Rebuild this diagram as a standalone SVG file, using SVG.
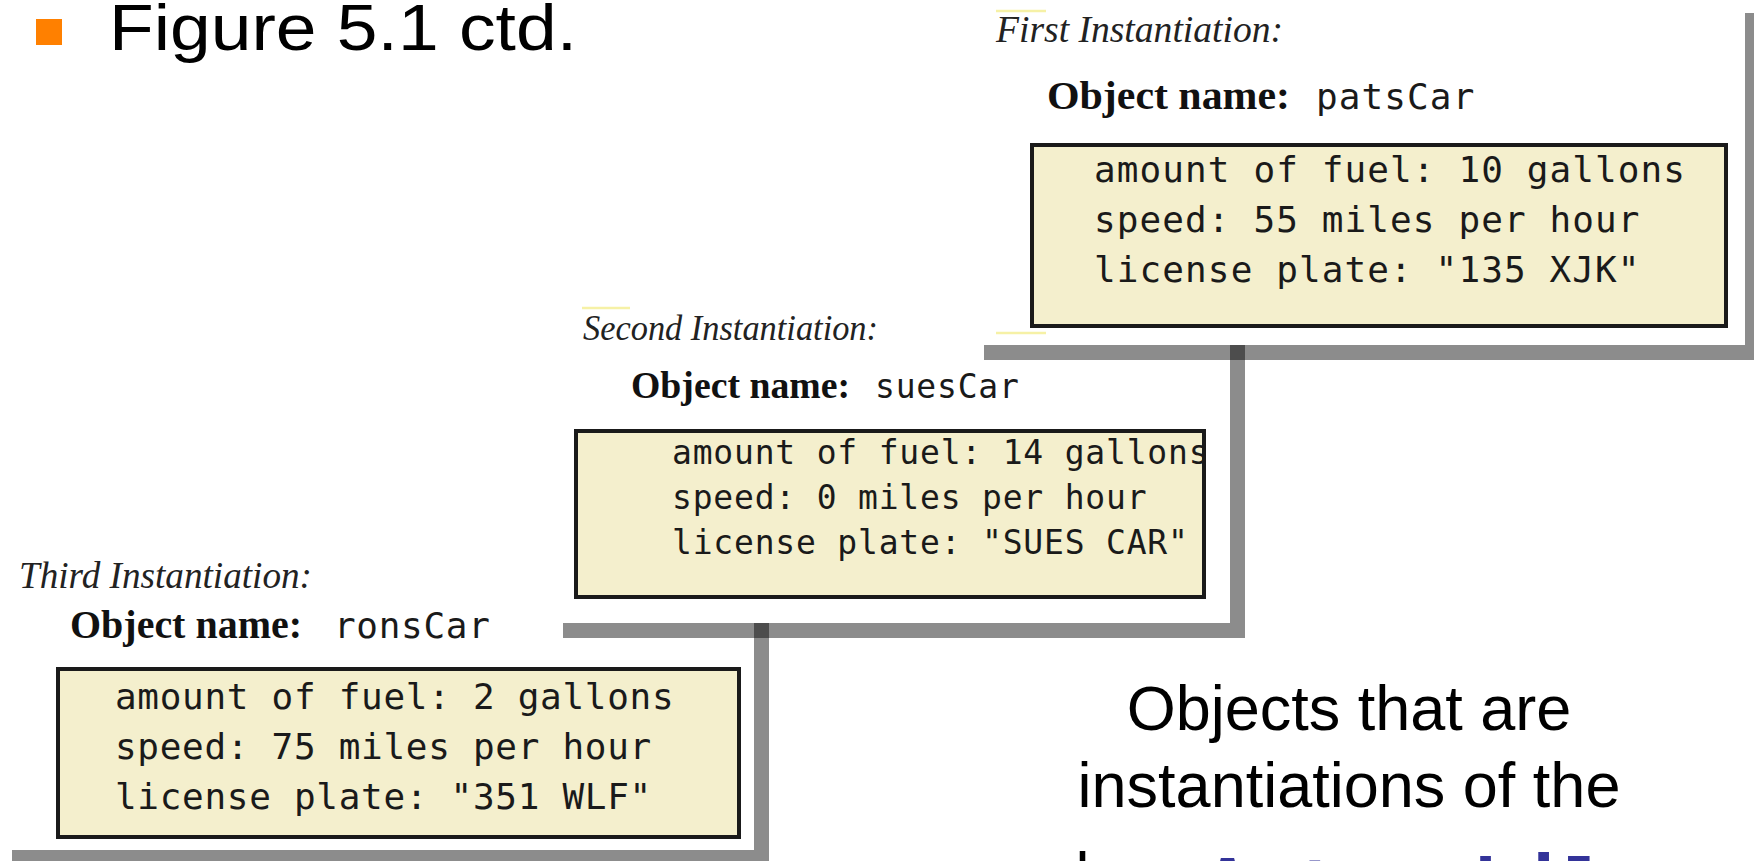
<svg xmlns="http://www.w3.org/2000/svg" width="1754" height="861" viewBox="0 0 1754 861">
  <style>
    .label { font-family: "Liberation Serif", "Times New Roman", serif; font-style: italic; fill: #222; }
    .objname { font-family: "Liberation Serif", "Times New Roman", serif; font-weight: bold; fill: #111; }
    .mono { font-family: "DejaVu Sans Mono", "Liberation Mono", monospace; fill: #1a1a1a; }
    .box { fill: #F4EFCD; stroke: #1a1a1a; stroke-width: 4; }
    .shadow { fill: #000; fill-opacity: 0.45; }
    .tick { stroke: #F6F1A6; stroke-width: 2.5; }
    .sans { font-family: "Liberation Sans", Arial, sans-serif; fill: #000; }
    .classname { font-family: "DejaVu Sans Mono", "Liberation Mono", monospace; font-weight: bold; fill: #333399; }
  </style>
  <defs>
    <clipPath id="clipBox2">
      <rect x="578" y="433" width="624" height="162"/>
    </clipPath>
  </defs>

  <rect x="0" y="0" width="1754" height="861" fill="#fff"/>

  <!-- slide heading -->
  <g id="heading">
    <rect x="36" y="19" width="26" height="26" fill="#FF8000"/>
    <text class="sans" x="109" y="50" font-size="64" textLength="468" lengthAdjust="spacingAndGlyphs">Figure 5.1 ctd.</text>
  </g>

  <!-- drop shadows behind the three object panels -->
  <g id="shadows">
    <rect class="shadow" x="1745" y="13" width="15" height="332"/>
    <rect class="shadow" x="984" y="345" width="776" height="15"/>
    <rect class="shadow" x="1230" y="345" width="15" height="278"/>
    <rect class="shadow" x="563" y="623" width="682" height="15"/>
    <rect class="shadow" x="754" y="623" width="15" height="227"/>
    <rect class="shadow" x="12" y="850" width="757" height="15"/>
  </g>

  <!-- first object: patsCar -->
  <g id="patsCar">
    <line class="tick" x1="996" y1="11" x2="1046" y2="11"/>
    <line class="tick" x1="996" y1="333" x2="1046" y2="333"/>
    <text class="label" x="996" y="42" font-size="37" textLength="287" lengthAdjust="spacingAndGlyphs">First Instantiation:</text>
    <text class="objname" x="1047" y="109" font-size="41" textLength="243" lengthAdjust="spacingAndGlyphs">Object name:</text>
    <text class="mono" x="1316" y="109" font-size="36" letter-spacing="1.1">patsCar</text>
    <rect class="box" x="1032" y="145" width="694" height="181"/>
    <g class="mono" font-size="36" letter-spacing="1.1">
      <text x="1094" y="182">amount of fuel: 10 gallons</text>
      <text x="1094" y="232">speed: 55 miles per hour</text>
      <text x="1094" y="282">license plate: "135 XJK"</text>
    </g>
  </g>

  <!-- second object: suesCar -->
  <g id="suesCar">
    <line class="tick" x1="582" y1="308" x2="630" y2="308"/>
    <text class="label" x="583" y="340" font-size="35" textLength="295" lengthAdjust="spacingAndGlyphs">Second Instantiation:</text>
    <text class="objname" x="631" y="398" font-size="38" textLength="219" lengthAdjust="spacingAndGlyphs">Object name:</text>
    <text class="mono" x="875" y="398" font-size="33" letter-spacing="0.8">suesCar</text>
    <rect class="box" x="576" y="431" width="628" height="166"/>
    <g class="mono" font-size="33" letter-spacing="0.8" clip-path="url(#clipBox2)">
      <text x="672" y="464">amount of fuel: 14 gallons</text>
      <text x="672" y="509">speed: 0 miles per hour</text>
      <text x="672" y="554">license plate: "SUES CAR"</text>
    </g>
  </g>

  <!-- third object: ronsCar -->
  <g id="ronsCar">
    <text class="label" x="19" y="588" font-size="37" textLength="293" lengthAdjust="spacingAndGlyphs">Third Instantiation:</text>
    <text class="objname" x="70" y="638" font-size="40" textLength="232" lengthAdjust="spacingAndGlyphs">Object name:</text>
    <text class="mono" x="334" y="638" font-size="36" letter-spacing="0.7">ronsCar</text>
    <rect class="box" x="58" y="669" width="681" height="168"/>
    <g class="mono" font-size="36" letter-spacing="0.7">
      <text x="115" y="709">amount of fuel: 2 gallons</text>
      <text x="115" y="759">speed: 75 miles per hour</text>
      <text x="115" y="809">license plate: "351 WLF"</text>
    </g>
  </g>

  <!-- caption; the last line runs off the bottom edge -->
  <g id="caption" class="sans" font-size="63">
    <text x="1349" y="730" text-anchor="middle">Objects that are</text>
    <text x="1349" y="807" text-anchor="middle">instantiations of the</text>
    <text x="1044" y="897">class</text>
    <text class="classname" x="1205" y="913" font-size="74.7">Automobile</text>
  </g>
</svg>
